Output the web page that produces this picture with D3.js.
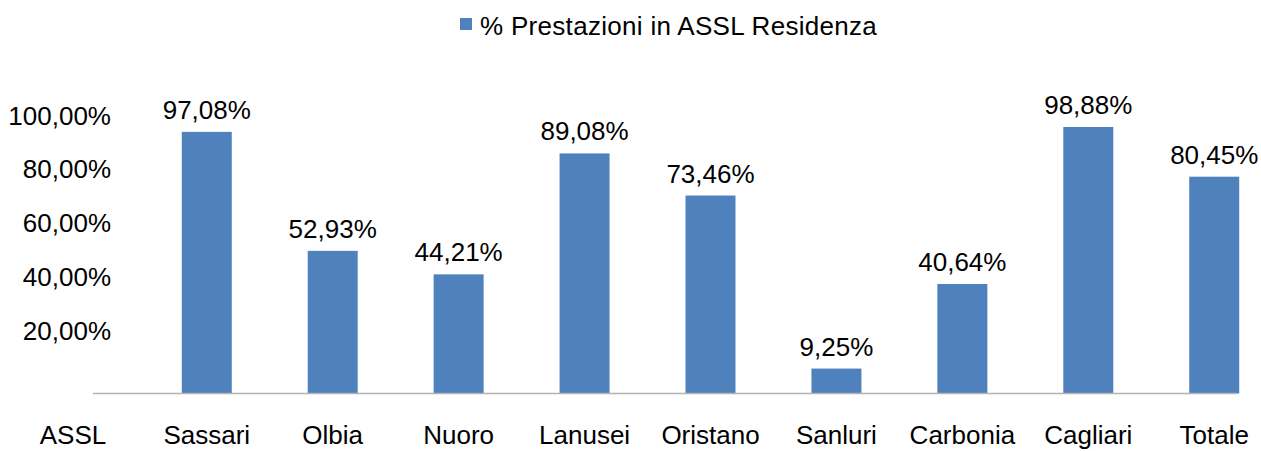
<!DOCTYPE html>
<html>
<head>
<meta charset="utf-8">
<script src="https://cdn.jsdelivr.net/npm/d3@7"></script>
<style>
  body { margin: 0; background: #fff; }
  text { font-family: "Liberation Sans", Arial, sans-serif; fill: #000; }
</style>
</head>
<body>
<div class="chart-container"></div>
<script>
var totalWidth = 1261;
var totalHeight = 451;

var seriesName = '% Prestazioni in ASSL Residenza';
var headerLabel = 'ASSL';
var regions = ['Sassari', 'Olbia', 'Nuoro', 'Lanusei', 'Oristano', 'Sanluri', 'Carbonia', 'Cagliari', 'Totale'];
var shares = [97.08, 52.93, 44.21, 89.08, 73.46, 9.25, 40.64, 98.88, 80.45];
var yTicks = [20, 40, 60, 80, 100];

var barColor = '#4f81bd';
var baseline = 393.5;

var it = d3.formatLocale({ decimal: ',', thousands: '.', grouping: [3], currency: ['€', ''] });
var pct = it.format('.2%');

var svg = d3.select('.chart-container').append('svg')
  .attr('width', totalWidth)
  .attr('height', totalHeight);

var x = d3.scaleBand()
  .domain(regions)
  .range([144, 1277])
  .paddingInner(0.603)
  .paddingOuter(0.3);

var y = d3.scaleLinear()
  .domain([0, 100])
  .range([baseline, 124]);

// legend
svg.append('rect')
  .attr('x', 460).attr('y', 18)
  .attr('width', 12).attr('height', 12)
  .attr('fill', barColor);
svg.append('text')
  .attr('x', 480).attr('y', 35)
  .style('font-size', '26px')
  .style('letter-spacing', '0.3px')
  .text(seriesName);

// y axis labels only
var gY = svg.append('g')
  .attr('transform', 'translate(111,0)')
  .call(d3.axisLeft(y).tickValues(yTicks).tickSize(0).tickFormat(d => pct(d / 100)));
gY.select('.domain').remove();
gY.attr('font-family', null).attr('font-size', null);
gY.selectAll('text')
  .attr('x', 0)
  .attr('dy', null)
  .attr('y', 0)
  .style('font-size', '26px');

// bars
svg.selectAll('rect.bar')
  .data(shares).enter()
  .append('rect')
    .attr('class', 'bar')
    .attr('x', (d, i) => x(regions[i]))
    .attr('y', d => y(d))
    .attr('width', x.bandwidth())
    .attr('height', d => y(0) - y(d))
    .attr('fill', barColor);

// value labels
svg.selectAll('text.value')
  .data(shares).enter()
  .append('text')
    .attr('class', 'value')
    .attr('x', (d, i) => x(regions[i]) + x.bandwidth() / 2)
    .attr('y', d => y(d) - 13)
    .attr('text-anchor', 'middle')
    .style('font-size', '26px')
    .text(d => pct(d / 100));

// baseline
svg.append('line')
  .attr('x1', 93).attr('x2', 1236)
  .attr('y1', baseline).attr('y2', baseline)
  .attr('stroke', '#b3b3b3')
  .attr('stroke-width', 1.5);

// x axis labels
var gX = svg.append('g')
  .attr('transform', 'translate(0,444)')
  .call(d3.axisBottom(x).tickSize(0));
gX.select('.domain').remove();
gX.attr('font-family', null).attr('font-size', null);
gX.selectAll('text')
  .attr('y', 0)
  .attr('dy', null)
  .style('font-size', '26px');

svg.append('text')
  .attr('x', 73).attr('y', 444)
  .attr('text-anchor', 'middle')
  .style('font-size', '26px')
  .text(headerLabel);
</script>
</body>
</html>
